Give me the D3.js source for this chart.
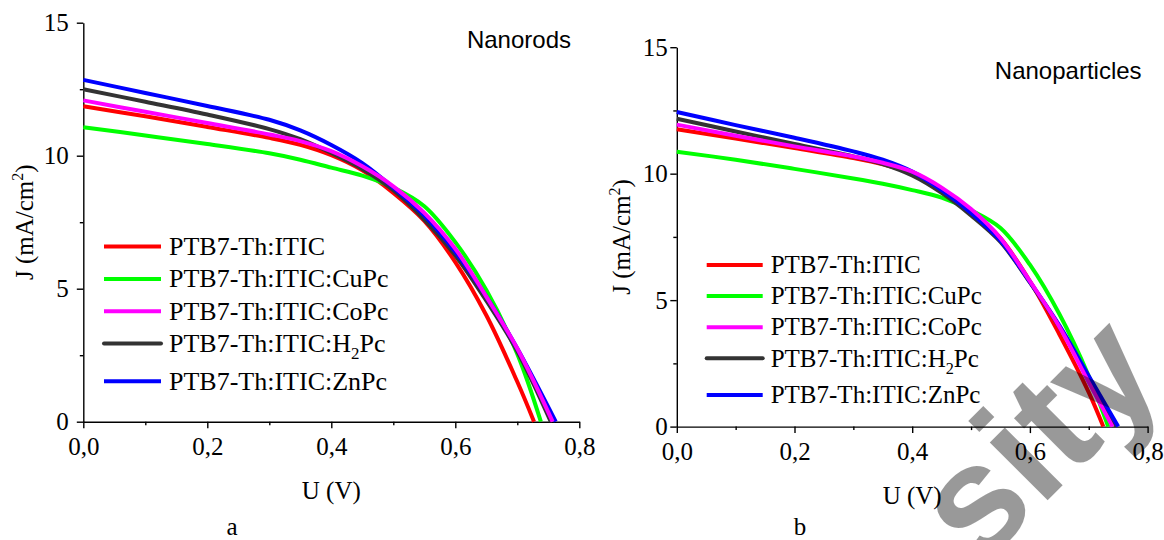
<!DOCTYPE html>
<html lang="en">
<head>
<meta charset="UTF-8">
<script src="https://cdn.jsdelivr.net/npm/d3@7"></script>
<style>
    body{margin:0;background:#fff;}
    svg text{font-family:"Liberation Serif","Times New Roman",serif;fill:#000;}
    .axis path,.axis line{stroke:#000;stroke-width:1.4;}
    svg .tag{font-family:"Liberation Sans",Arial,sans-serif;}
    svg .mark{font-family:"Liberation Sans",Arial,sans-serif;font-weight:bold;fill:#000;fill-opacity:0.4;}
</style>
<title>J-V curves</title>
</head>
<body>
<script>
    // voltage grid (V) where J was read, the last point of each curve is Voc (J = 0)
    var voltage = [0, 0.1, 0.2, 0.3, 0.35, 0.4, 0.45, 0.5, 0.55, 0.6, 0.65, 0.7];
    var seriesNames = ["PTB7-Th:ITIC", "PTB7-Th:ITIC:CuPc", "PTB7-Th:ITIC:CoPc", "PTB7-Th:ITIC:H2Pc", "PTB7-Th:ITIC:ZnPc"];
    var colors = ["#ff0000", "#00ff00", "#ff00ff", "#333333", "#0000ff"];

    // a - Nanorods, J in mA/cm2
    var rodsITIC = [11.86, 11.48, 11.08, 10.67, 10.41, 10.02, 9.45, 8.6, 7.55, 6.0, 4.0, 1.5];
    var rodsCuPc = [11.07, 10.76, 10.44, 10.09, 9.85, 9.55, 9.25, 8.8, 8.1, 6.75, 4.95, 2.55];
    var rodsCoPc = [12.08, 11.65, 11.23, 10.8, 10.55, 10.17, 9.6, 8.85, 7.85, 6.5, 4.7, 2.75];
    var rodsH2Pc = [12.5, 12.03, 11.55, 11.0, 10.62, 10.1, 9.5, 8.7, 7.6, 6.25, 4.55, 2.65];
    var rodsZnPc = [12.85, 12.36, 11.87, 11.35, 10.95, 10.4, 9.72, 8.8, 7.75, 6.38, 4.7, 2.75];
    var rodsVoc = [0.727, 0.738, 0.757, 0.754, 0.762];

    // b - Nanoparticles
    var partITIC = [11.76, 11.39, 11.01, 10.62, 10.37, 10.0, 9.4, 8.55, 7.45, 5.75, 3.65, 1.35];
    var partCuPc = [10.87, 10.55, 10.19, 9.81, 9.6, 9.35, 9.05, 8.55, 7.85, 6.4, 4.45, 2.0];
    var partCoPc = [11.94, 11.5, 11.08, 10.68, 10.43, 10.08, 9.45, 8.6, 7.45, 5.75, 3.95, 1.75];
    var partH2Pc = [12.17, 11.67, 11.17, 10.68, 10.38, 9.93, 9.24, 8.35, 7.3, 5.7, 3.95, 1.95];
    var partZnPc = [12.44, 11.92, 11.42, 10.88, 10.55, 10.08, 9.35, 8.45, 7.35, 5.72, 4.0, 2.0];
    var partVoc = [0.7247, 0.733, 0.7405, 0.7468, 0.75];

    var xTicks = [0, 0.2, 0.4, 0.6, 0.8];
    var xMinor = [0.1, 0.3, 0.5, 0.7];
    var yTicks = [0, 5, 10, 15];
    var yMinor = [2.5, 7.5, 12.5];

    var serif = '"Liberation Serif","Times New Roman",serif';

    var svg = d3.select("body").append("svg")
        .attr("width", 1164)
        .attr("height", 540);

    var drawOrder = [0, 1, 3, 4, 2];

    function panel(o){
        var x = d3.scaleLinear().domain([0, 0.8]).range([o.x0, o.x1]);
        var y = d3.scaleLinear().domain([0, 15]).range([o.y0, o.y1]);
        var g = svg.append("g");

        g.append("g").attr("class", "axis")
            .attr("transform", "translate(0," + o.y0 + ")")
            .call(d3.axisBottom(x).tickValues(xMinor).tickSize(3.5).tickFormat(""))
            .select(".domain").remove();
        g.append("g").attr("class", "axis")
            .attr("transform", "translate(" + o.x0 + ",0)")
            .call(d3.axisLeft(y).tickValues(yMinor).tickSize(3.5).tickFormat(""))
            .select(".domain").remove();

        var xa = g.append("g").attr("class", "axis")
            .attr("transform", "translate(0," + o.y0 + ")")
            .call(d3.axisBottom(x).tickValues(xTicks).tickSize(6.5).tickSizeOuter(0).tickPadding(9)
                .tickFormat(function(d){ return d3.format(".1f")(d).replace(".", ","); }));
        var ya = g.append("g").attr("class", "axis")
            .attr("transform", "translate(" + o.x0 + ",0)")
            .call(d3.axisLeft(y).tickValues(yTicks).tickSize(6.5).tickSizeOuter(0).tickPadding(o.yPad)
                .tickFormat(d3.format("d")));
        [xa, ya].forEach(function(a){
            a.attr("font-size", null).attr("font-family", null)
                .selectAll("text")
                .style("font-family", serif)
                .style("font-size", "25px");
        });

        var line = d3.line()
            .x(function(d){ return x(d[0]); })
            .y(function(d){ return y(d[1]); })
            .curve(d3.curveCatmullRom.alpha(0.5));

        drawOrder.forEach(function(i){
            var pts = voltage.map(function(u, k){ return [u, o.series[i][k]]; });
            pts.push([o.voc[i], 0]);
            g.append("path")
                .attr("d", line(pts))
                .attr("fill", "none")
                .attr("stroke", colors[i])
                .attr("stroke-width", 4)
                .attr("stroke-linejoin", "round");
        });

        // legend
        var leg = g.append("g").attr("transform", "translate(" + o.legX + "," + o.legY + ")");
        seriesNames.forEach(function(name, i){
            var ly = i * o.legStep + (i > 3 ? 5.5 : 0);
            leg.append("line")
                .attr("x1", 0).attr("x2", o.legLen)
                .attr("y1", ly).attr("y2", ly)
                .attr("stroke", colors[i])
                .attr("stroke-width", 4)
                .attr("stroke-linecap", i == 3 ? "round" : "butt");
            var t = leg.append("text")
                .attr("x", o.legLen + 8)
                .attr("y", ly + o.legFont * 0.33)
                .style("font-family", serif)
                .style("font-size", o.legFont + "px");
            var parts = name.split("H2Pc");
            if(parts.length > 1){
                t.append("tspan").text(parts[0] + "H");
                t.append("tspan").attr("dy", 7).style("font-size", (o.legFont * 0.65) + "px").text("2");
                t.append("tspan").attr("dy", -7).text("Pc");
            } else {
                t.text(name);
            }
        });

        // axis titles
        g.append("text")
            .attr("x", (o.x0 + o.x1) / 2)
            .attr("y", o.y0 + 77)
            .attr("text-anchor", "middle")
            .style("font-family", serif)
            .style("font-size", "25px")
            .text("U (V)");
        var yl = g.append("text")
            .attr("transform", "translate(" + o.yLabX + "," + ((o.y0 + o.y1) / 2) + ") rotate(-90)")
            .attr("text-anchor", "middle")
            .style("font-family", serif)
            .style("font-size", "25px");
        yl.append("tspan").text("J (mA/cm");
        yl.append("tspan").attr("dy", -10).style("font-size", "16px").text("2");
        yl.append("tspan").attr("dy", 10).text(")");

        g.append("text")
            .attr("class", "tag")
            .attr("x", o.tagX).attr("y", o.tagY)
            .attr("text-anchor", "end")
            .style("font-size", "24px")
            .text(o.tag);

        g.append("text")
            .attr("x", o.letterX).attr("y", 535)
            .attr("text-anchor", "middle")
            .style("font-family", serif)
            .style("font-size", "25px")
            .text(o.letter);
    }

    panel({
        x0: 83.3, x1: 579.3, y0: 421.7, y1: 22.7, yPad: 8,
        series: [rodsITIC, rodsCuPc, rodsCoPc, rodsH2Pc, rodsZnPc], voc: rodsVoc,
        legX: 104, legY: 246.6, legStep: 32.3, legLen: 57, legFont: 26,
        yLabX: 33, tag: "Nanorods", tagX: 571, tagY: 47.6, letter: "a", letterX: 232
    });
    panel({
        x0: 676.8, x1: 1147.6, y0: 426.6, y1: 47.2, yPad: 2.5,
        series: [partITIC, partCuPc, partCoPc, partH2Pc, partZnPc], voc: partVoc,
        legX: 706.7, legY: 265, legStep: 31.1, legLen: 56, legFont: 25,
        yLabX: 630, tag: "Nanoparticles", tagX: 1141.6, tagY: 79.3, letter: "b", letterX: 800
    });

    // semi-transparent watermark across the right panel
    svg.append("text")
        .attr("class", "mark")
        .attr("transform", "translate(979,569) rotate(-45)")
        .style("font-size", "155px")
        .text("sity");
</script>
</body>
</html>
